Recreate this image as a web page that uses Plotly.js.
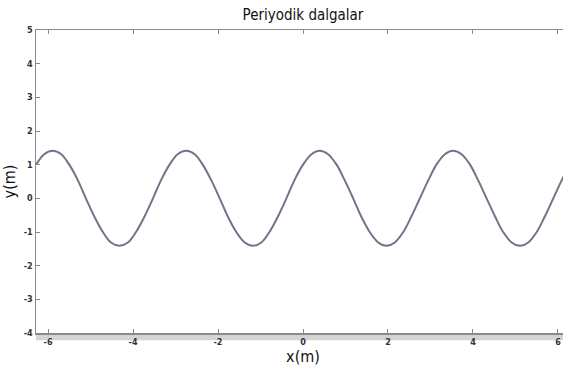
<!DOCTYPE html>
<html>
<head>
<meta charset="utf-8">
<script src="https://cdn.plot.ly/plotly-3.0.1.min.js"></script>
<style>
html,body{margin:0;padding:0;overflow:hidden;background:#fff;width:563px;height:369px;}
#chart{width:575px;height:369px;}
</style>
</head>
<body>
<div id="chart"></div>
<script>
// x positions (m), sampled along the wave
var xValues = [-6.28,-6.09,-5.89,-5.69,-5.50,-5.30,-5.11,-4.91,-4.71,-4.52,-4.32,-4.12,-3.93,-3.73,-3.53,-3.34,
               -3.14,-2.95,-2.75,-2.55,-2.36,-2.16,-1.96,-1.77,-1.57,-1.37,-1.18,-0.98,-0.79,-0.59,-0.39,-0.20,
               0,0.20,0.39,0.59,0.79,0.98,1.18,1.37,1.57,1.77,1.96,2.16,2.36,2.55,2.75,2.95,
               3.14,3.34,3.53,3.73,3.93,4.12,4.32,4.52,4.71,4.91,5.11,5.30,5.50,5.69,5.89,6.09,6.28];
// y values (m)
var yValues = [1,1.31,1.41,1.31,1,0.54,0,-0.54,-1,-1.31,-1.41,-1.31,-1,-0.54,0,0.54,
               1,1.31,1.41,1.31,1,0.54,0,-0.54,-1,-1.31,-1.41,-1.31,-1,-0.54,0,0.54,
               1,1.31,1.41,1.31,1,0.54,0,-0.54,-1,-1.31,-1.41,-1.31,-1,-0.54,0,0.54,
               1,1.31,1.41,1.31,1,0.54,0,-0.54,-1,-1.31,-1.41,-1.31,-1,-0.54,0,0.54,1];
var xTicks = [-6,-4,-2,0,2,4,6];
var yTicks = [-4,-3,-2,-1,0,1,2,3,4,5];
var titleText = 'Periyodik dalgalar';
var xLabel = 'x(m)';
var yLabel = 'y(m)';

var narrow = '"Liberation Sans Narrow", "DejaVu Sans Condensed", Arial, sans-serif';

var trace = {
  x: xValues, y: yValues, type: 'scatter', mode: 'lines',
  line: {color: '#72748a', width: 2, shape: 'spline', smoothing: 1},
  hoverinfo: 'skip'
};

var layout = {
  width: 575, height: 369,
  margin: {l: 36, r: 5, t: 30, b: 36},
  paper_bgcolor: '#fff', plot_bgcolor: '#fff',
  showlegend: false,
  title: {text: titleText, font: {family: narrow, size: 15, color: '#111'}, x: 0.5, xref: 'paper', y: 0.96, yref: 'container', yanchor: 'middle'},
  xaxis: {
    range: [-6.2832, 6.2832], tickvals: xTicks, ticktext: xTicks.map(String),
    ticks: 'inside', ticklen: 4, tickcolor: '#888', tickwidth: 1,
    showline: true, linecolor: '#8a8a8a', linewidth: 1.5, mirror: 'ticks',
    showgrid: false, zeroline: false,
    tickfont: {family: narrow, size: 9, color: '#333', weight: 'bold'},
    title: {text: xLabel, font: {family: narrow, size: 16, color: '#111'}, standoff: 2}
  },
  yaxis: {
    range: [-4, 5], tickvals: yTicks, ticktext: yTicks.map(String),
    ticks: 'inside', ticklen: 4, tickcolor: '#888', tickwidth: 1,
    showline: true, linecolor: '#8a8a8a', linewidth: 1.5, mirror: 'ticks',
    showgrid: false, zeroline: false,
    tickfont: {family: narrow, size: 9, color: '#333', weight: 'bold'},
    title: {text: yLabel, font: {family: narrow, size: 16, color: '#111'}, standoff: 4}
  },
  shapes: [{type: 'rect', xref: 'paper', yref: 'paper', x0: 0, x1: 1, y0: -0.024, y1: -0.003,
            fillcolor: '#d4d4d4', line: {width: 0}, layer: 'below'}]
};

Plotly.newPlot('chart', [trace], layout, {staticPlot: true, displayModeBar: false});
</script>
</body>
</html>
